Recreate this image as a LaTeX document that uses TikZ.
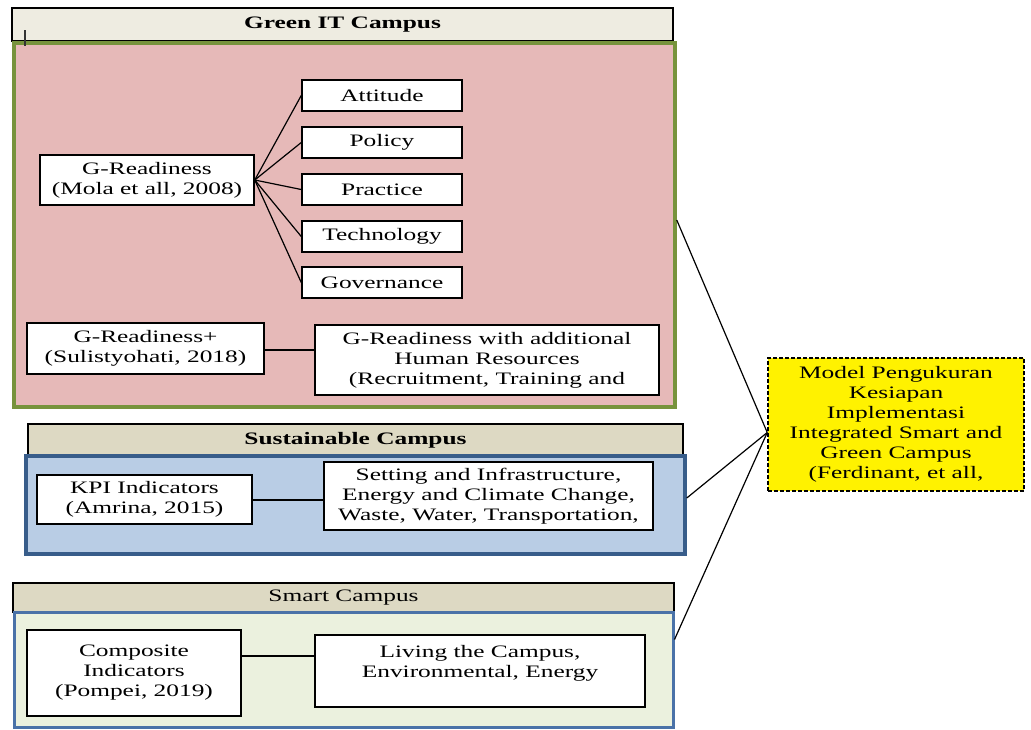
\documentclass[tikz,border=0pt]{standalone}
\usepackage{fontspec}
\setmainfont{Liberation Serif}[FakeStretch=1.45]
\usepackage{xcolor}
\usepackage{tikz}
\definecolor{tanlight}{HTML}{EEECE1}
\definecolor{tandark}{HTML}{DDD9C3}
\definecolor{rosefill}{HTML}{E6B9B8}
\definecolor{olivedge}{HTML}{77933C}
\definecolor{bluefill}{HTML}{B9CDE5}
\definecolor{bluedge}{HTML}{385D8A}
\definecolor{mintfill}{HTML}{EBF1DE}
\definecolor{bluemid}{HTML}{4A72A8}

\begin{document}
\begin{tikzpicture}[x=1pt,y=-1pt,font=\fontsize{17.5}{20}\selectfont,
  box/.style={draw,line width=1.5pt,fill=white,align=center,inner sep=2pt},
  hdr/.style={draw,line width=1.5pt,fill=tandark},
  panel/.style={draw,line width=3.5pt},
  link/.style={line width=1.2pt}]
  \useasboundingbox (0,0) rectangle (1031,729);

  % Green IT Campus
  \node[hdr,fill=tanlight,minimum width=661,minimum height=33,font=\fontsize{17.5}{20}\selectfont\bfseries] (ghdr) at (342.5,24.5) {Green IT Campus};
  \node[panel,draw=olivedge,fill=rosefill,minimum width=661,minimum height=364] (gpanel) at (344.5,225) {};
  \draw[line width=2.5pt,black!80] (25,30) -- (25,46);
  \node[box,minimum width=214,minimum height=50] (grd) at (147,180) {G-Readiness\\(Mola et all, 2008)};
  \foreach \f/\yy [count=\i] in {Attitude/95.5,Policy/142.5,Practice/189.5,Technology/236.5,Governance/282.5}{
    \node[box,minimum width=160,minimum height=31] (f\i) at (382,\yy) {\f};
    \draw[link] (grd.east) -- (f\i.west);
  }
  \node[box,minimum width=237,minimum height=51] (grdp) at (145.5,348.5) {G-Readiness+\\(Sulistyohati, 2018)};
  \node[box,minimum width=344,minimum height=70] (hr) at (487,360) {G-Readiness with additional\\Human Resources\\(Recruitment, Training and};
  \draw[link] (grdp.east |- 0,350) -- (hr.west |- 0,350);

  % Sustainable Campus
  \node[hdr,minimum width=655,minimum height=32,font=\fontsize{17.5}{20}\selectfont\bfseries] (shdr) at (355.5,440) {Sustainable Campus};
  \node[panel,draw=bluedge,fill=bluefill,minimum width=659,minimum height=98] (spanel) at (355.5,505) {};
  \node[box,minimum width=215,minimum height=49] (kpi) at (144.5,499.5) {KPI Indicators\\(Amrina, 2015)};
  \node[box,minimum width=329,minimum height=68] (infra) at (488.5,496) {Setting and Infrastructure,\\Energy and Climate Change,\\Waste, Water, Transportation,};
  \draw[link] (kpi.east |- 0,500) -- (infra.west |- 0,500);

  % Smart Campus
  \node[hdr,minimum width=661,minimum height=29] (mhdr) at (343.5,597.5) {Smart Campus};
  \node[panel,draw=bluemid,line width=3pt,fill=mintfill,minimum width=659,minimum height=115] (mpanel) at (343.5,669.5) {};
  \node[box,minimum width=214,minimum height=86] (comp) at (134,673) {Composite\\Indicators\\(Pompei, 2019)};
  \node[box,minimum width=330,minimum height=72] (living) at (480,671) {Living the Campus,\\Environmental, Energy\\\mbox{}};
  \draw[link] (comp.east |- 0,656) -- (living.west |- 0,656);

  % integrated model
  \node[draw,dash pattern=on 4pt off 2pt,line width=1.5pt,fill=yellow,align=center,minimum width=256,minimum height=133,inner sep=1pt] (model) at (896,424.5)
    {Model Pengukuran\\Kesiapan\\Implementasi\\Integrated Smart and\\Green Campus\\(Ferdinant, et all,};
  \coordinate (join) at ([yshift=-8pt]model.west);
  \draw[link] ([yshift=5pt]gpanel.east) -- (join);
  \draw[link] ([yshift=7pt]spanel.east) -- (join);
  \draw[link] ([yshift=30pt]mpanel.east) -- (join);
\end{tikzpicture}
\end{document}
